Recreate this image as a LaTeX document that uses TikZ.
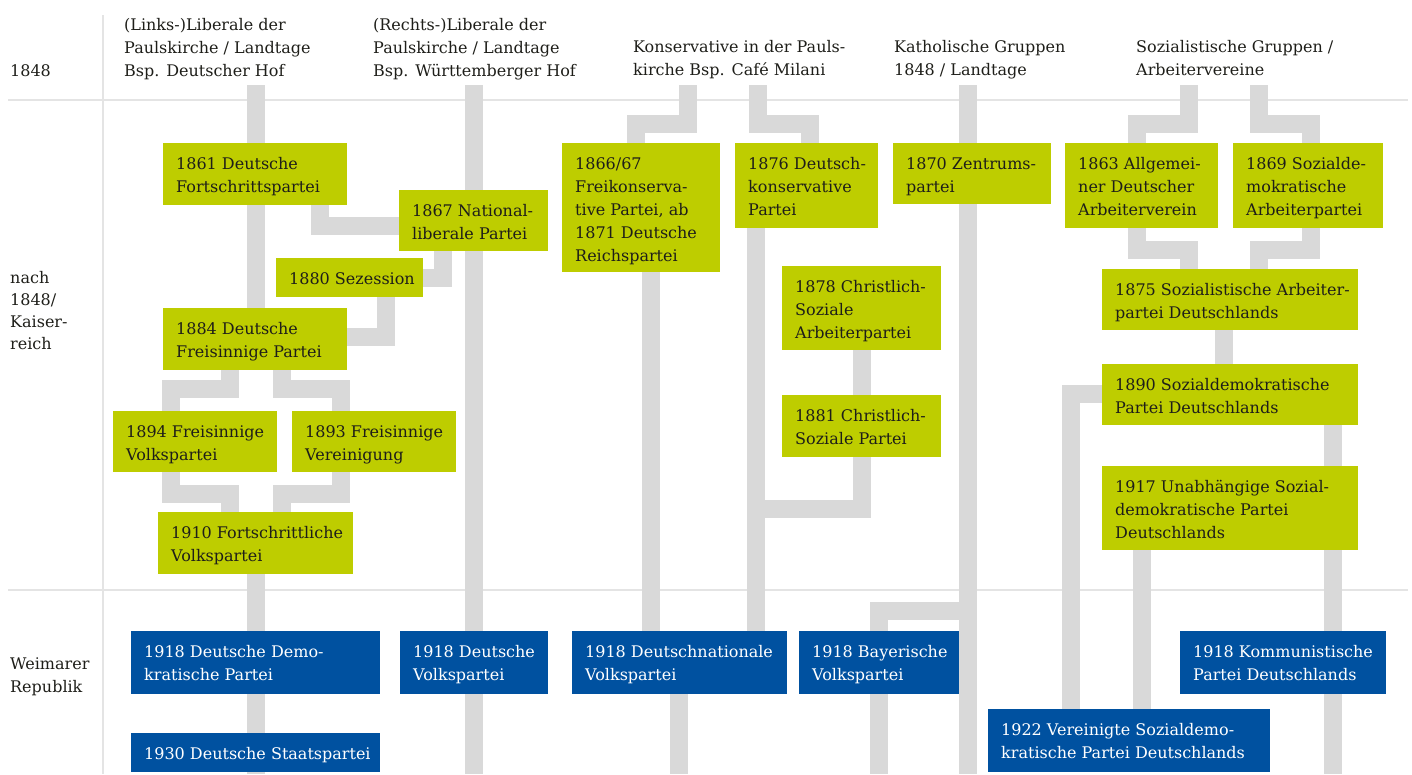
\documentclass[tikz,border=0pt]{standalone}
\usepackage{fontspec}
\setmainfont{DejaVu Serif}
\definecolor{pgreen}{RGB}{190,205,0}
\definecolor{pblue}{RGB}{0,81,160}
\definecolor{pgray}{RGB}{217,217,217}
\definecolor{sepgray}{RGB}{228,228,228}
\definecolor{txtdark}{RGB}{30,30,25}
\pgfdeclarelayer{bg}
\pgfsetlayers{bg,main}
\newcommand\myfnt{\fontsize{16}{23}\selectfont}
\newcommand\partybox[7]{%
  \pgfmathsetmacro\pbw{#5-#3}%
  \pgfmathsetmacro\pbh{#6-#4}%
  \node[#2box, minimum width=\pbw pt, minimum height=\pbh pt] (#1) at (#3,#4) {};%
  \node[#2txt] at (#3+13,#4+10.4) {\strut #7};}
\begin{document}
\begin{tikzpicture}[x=1pt,y=-1pt,
  conn/.style={draw=pgray, line width=18pt, line cap=butt, line join=miter},
  sepline/.style={draw=sepgray, line width=2.5pt},
  gbox/.style={rectangle, fill=pgreen, inner sep=0pt, outer sep=0pt, anchor=north west},
  bbox/.style={rectangle, fill=pblue, inner sep=0pt, outer sep=0pt, anchor=north west},
  gtxt/.style={anchor=north west, inner sep=0pt, align=left, text=txtdark, font=\myfnt},
  btxt/.style={anchor=north west, inner sep=0pt, align=left, text=white, font=\myfnt},
  head/.style={anchor=north west, inner sep=0pt, align=left, text=txtdark, font=\myfnt}]
\useasboundingbox (0,0) rectangle (1412,774);

% headers
\node[head] (hdLL) at (124,13.9) {\strut (Links-)Liberale der\\Paulskirche / Landtage\\Bsp. Deutscher Hof};
\node[head] (hdRL) at (373,13.9) {\strut (Rechts-)Liberale der\\Paulskirche / Landtage\\Bsp. Württemberger Hof};
\node[head] (hdK) at (633,36.6) {\strut Konservative in der Pauls-\\kirche Bsp. Café Milani};
\node[head] (hdZ) at (894,36.6) {\strut Katholische Gruppen\\1848 / Landtage};
\node[head] (hdS) at (1136,36.6) {\strut Sozialistische Gruppen /\\Arbeitervereine};
\node[head] (r1) at (10,59.9) {\strut 1848};
\node[head, font=\fontsize{16}{22}\selectfont] (r2) at (10,267.6) {\strut nach\\1848/\\Kaiser-\\reich};
\node[head] (r3) at (10,652.9) {\strut Weimarer\\Republik};

% green boxes
\partybox{n1861}{g}{163}{143}{347}{205}{1861 Deutsche\\Fortschrittspartei}
\partybox{n1867}{g}{399}{190}{548}{251}{1867 National-\\liberale Partei}
\partybox{n1880}{g}{276}{258}{423}{297}{1880 Sezession}
\partybox{n1884}{g}{163}{308}{347}{370}{1884 Deutsche\\Freisinnige Partei}
\partybox{n1894}{g}{113}{411}{277}{472}{1894 Freisinnige\\Volkspartei}
\partybox{n1893}{g}{292}{411}{456}{472}{1893 Freisinnige\\Vereinigung}
\partybox{n1910}{g}{158}{512}{353}{574}{1910 Fortschrittliche\\Volkspartei}
\partybox{n1866}{g}{562}{143}{720}{272}{1866/67\\Freikonserva-\\tive Partei, ab\\1871 Deutsche\\Reichspartei}
\partybox{n1876}{g}{735}{143}{878}{228}{1876 Deutsch-\\konservative\\Partei}
\partybox{n1870}{g}{893}{143}{1051}{204}{1870 Zentrums-\\partei}
\partybox{n1878}{g}{782}{266}{941}{350}{1878 Christlich-\\Soziale\\Arbeiterpartei}
\partybox{n1881}{g}{782}{395}{941}{457}{1881 Christlich-\\Soziale Partei}
\partybox{n1863}{g}{1065}{143}{1218}{228}{1863 Allgemei-\\ner Deutscher\\Arbeiterverein}
\partybox{n1869}{g}{1233}{143}{1383}{228}{1869 Sozialde-\\mokratische\\Arbeiterpartei}
\partybox{n1875}{g}{1102}{269}{1358}{330}{1875 Sozialistische Arbeiter-\\partei Deutschlands}
\partybox{n1890}{g}{1102}{364}{1358}{425}{1890 Sozialdemokratische\\Partei Deutschlands}
\partybox{n1917}{g}{1102}{466}{1358}{550}{1917 Unabhängige Sozial-\\demokratische Partei\\Deutschlands}

% blue boxes
\partybox{nDDP}{b}{131}{631}{380}{694}{1918 Deutsche Demo-\\kratische Partei}
\partybox{nDStP}{b}{131}{733}{380}{772}{1930 Deutsche Staatspartei}
\partybox{nDVP}{b}{400}{631}{548}{694}{1918 Deutsche\\Volkspartei}
\partybox{nDNVP}{b}{572}{631}{787}{694}{1918 Deutschnationale\\Volkspartei}
\partybox{nBVP}{b}{799}{631}{959}{694}{1918 Bayerische\\Volkspartei}
\partybox{nKPD}{b}{1180}{631}{1386}{694}{1918 Kommunistische\\Partei Deutschlands}
\partybox{nVSPD}{b}{988}{709}{1270}{772}{1922 Vereinigte Sozialdemo-\\kratische Partei Deutschlands}

\coordinate (hLL) at (256,85);
\coordinate (hRL) at (474,85);
\coordinate (hK1) at (688,85);
\coordinate (hK2) at (758,85);
\coordinate (hZ) at (968,85);
\coordinate (hS1) at (1189,85);
\coordinate (hS2) at (1259,85);
\coordinate (bot) at (0,774);
\coordinate (jCS) at (756,509);

\begin{pgfonlayer}{bg}
\draw[sepline] (8,100) -- (1408,100);
\draw[sepline] (8,590) -- (1408,590);
\draw[sepline] (103,15) -- (103,774);

% left liberals
\draw[conn] (hLL) -- (hLL |- n1884.north);
\draw[conn] (n1910.south -| hLL) -- (hLL |- bot);
\draw[conn] (n1884.south -| 230,0) -- (230,389) -- (171,389) -- (n1894.north -| 171,0);
\draw[conn] (n1884.south -| 282,0) -- (282,389) -- (341,389) -- (n1893.north -| 341,0);
\draw[conn] (n1894.south -| 171,0) -- (171,494) -- (230,494) -- (n1910.north -| 230,0);
\draw[conn] (n1893.south -| 341,0) -- (341,494) -- (282,494) -- (n1910.north -| 282,0);
\draw[conn] (n1861.south -| 320,0) |- (n1867.west |- 0,226);
\draw[conn] (n1867.south -| 443,0) |- (n1880.east |- 0,278);
\draw[conn] (n1880.south -| 386,0) |- (n1884.east |- 0,337);
% right liberals
\draw[conn] (hRL) -- (hRL |- bot);
% conservatives
\draw[conn] (hK1) -- (688,124) -- (636,124) -- (n1866.north -| 636,0);
\draw[conn] (n1866.south -| 651,0) -- (nDNVP.north -| 651,0);
\draw[conn] (hK2) -- (758,124) -- (810,124) -- (n1876.north -| 810,0);
\draw[conn] (n1876.south -| 756,0) -- (nDNVP.north -| 756,0);
\draw[conn] (n1878.south -| 862,0) -- (n1881.north -| 862,0);
\draw[conn] (n1881.south -| 862,0) |- (jCS);
\draw[conn] (nDNVP.south -| 679,0) -- (679,774);
% catholics
\draw[conn] (hZ) -- (hZ |- bot);
\draw[conn] (hZ |- 0,611) -| (879,774);
% socialists
\draw[conn] (hS1) -- (1189,124) -- (1137,124) -- (n1863.north -| 1137,0);
\draw[conn] (hS2) -- (1259,124) -- (1311,124) -- (n1869.north -| 1311,0);
\draw[conn] (n1863.south -| 1137,0) -- (1137,250) -- (1189,250) -- (n1875.north -| 1189,0);
\draw[conn] (n1869.south -| 1311,0) -- (1311,250) -- (1259,250) -- (n1875.north -| 1259,0);
\draw[conn] (n1875.south -| 1224,0) -- (n1890.north -| 1224,0);
\draw[conn] (n1890.west |- 0,394) -| (nVSPD.north -| 1071,0);
\draw[conn] (n1890.south -| 1333,0) -- (1333,774);
\draw[conn] (n1917.south -| 1142,0) -- (nVSPD.north -| 1142,0);
\end{pgfonlayer}
\end{tikzpicture}
\end{document}
